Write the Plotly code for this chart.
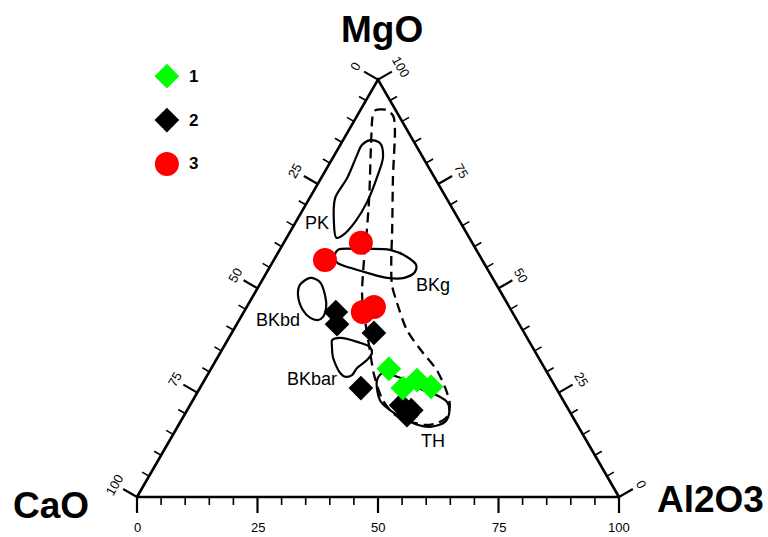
import math
import plotly.graph_objects as go

# ---- sample compositions (wt %, normalised): MgO, CaO, Al2O3 ----
g1_mgo = [30.7, 26.1, 28.0, 26.4]
g1_cao = [32.4, 31.8, 27.9, 25.8]
g1_al = [36.9, 42.1, 44.1, 47.8]

g2_mgo = [44.3, 41.4, 39.3, 26.1, 22.0, 19.6, 20.8]
g2_cao = [36.6, 37.8, 31.2, 40.5, 34.2, 34.2, 32.7]
g2_al = [19.1, 20.8, 29.5, 33.4, 43.8, 46.2, 46.5]

g3_mgo = [60.9, 56.8, 44.3, 45.5]
g3_cao = [23.1, 32.6, 31.0, 28.1]
g3_al = [16.0, 10.6, 24.7, 26.4]

# ---- reference fields (MgO, Al2O3; CaO is the remainder) ----
pk_mgo = [85.5, 84.8, 81.5, 77.1, 70.7, 65.9, 62.8, 62.1, 65.9, 71.6, 76.4, 81.9, 84.3, 85.5]
pk_al = [5.6, 8.0, 10.3, 11.4, 12.4, 12.3, 11.4, 10.3, 7.9, 5.3, 5.4, 4.7, 4.5, 5.6]

bkg_mgo = [59.2, 59.4, 59.2, 57.5, 55.6, 53.9, 52.5, 52.5, 53.7, 54.9, 56.1, 57.7, 59.2]
bkg_al = [12.1, 16.6, 22.9, 27.3, 30.1, 30.7, 29.2, 25.6, 20.9, 16.8, 13.5, 12.2, 12.1]

bkbd_mgo = [50.8, 52.5, 51.5, 48.4, 45.5, 43.1, 42.4, 42.9, 44.8, 48.4, 50.8]
bkbd_al = [8.4, 9.7, 12.2, 14.8, 16.5, 17.0, 16.4, 14.5, 12.0, 9.2, 8.4]

bkbar_mgo = [37.6, 38.1, 37.1, 35.9, 34.5, 32.8, 30.9, 29.2, 28.8, 29.7, 33.5, 35.9, 37.6]
bkbar_al = [21.7, 23.1, 27.3, 30.4, 31.5, 31.3, 30.2, 30.0, 28.8, 27.3, 23.9, 22.5, 21.7]

th_mgo = [28.0, 23.2, 20.8, 18.9, 17.3, 16.8, 18.0, 20.4, 22.8, 24.4, 25.6, 27.6, 28.8, 29.7, 28.0]
th_al = [35.8, 38.8, 42.1, 45.7, 49.5, 52.4, 54.9, 54.6, 52.9, 50.0, 46.5, 42.9, 39.6, 36.2, 35.8]

# tholeiitic trend envelope (dashed)
trend_mgo = [91.5, 92.7, 92.7, 91.3, 88.4, 76.4, 64.5, 56.3, 50.8, 46.5, 40.0, 34.5, 30.4,
             24.9, 22.0, 19.2, 17.7, 17.3, 19.7, 23.2, 29.2, 35.2, 42.4, 48.4, 56.8, 64.0,
             72.4, 84.3, 91.5]
trend_al = [3.2, 3.2, 5.5, 7.5, 9.3, 14.9, 20.7, 24.6, 27.5, 30.7, 36.0, 42.1, 47.0,
            51.9, 53.9, 54.7, 53.4, 50.7, 43.7, 39.4, 34.6, 30.7, 26.1, 22.5, 18.7, 15.7,
            12.0, 6.4, 3.2]

field_names = ["PK", "BKg", "BKbd", "BKbar", "TH"]
field_label_mgo = [65.6, 50.8, 42.4, 28.3, 13.4]
field_label_al = [4.5, 36.0, 8.1, 22.2, 54.7]

tick_values = list(range(0, 101, 5))
major_ticks = [0, 25, 50, 75, 100]

series_names = ["1", "2", "3"]

SQ3 = math.sqrt(3) / 2


def to_xy(mgo, al):
    """Ternary (MgO apex, CaO left, Al2O3 right) -> plane coordinates."""
    xs = [a + m / 2 for m, a in zip(mgo, al)]
    ys = [m * SQ3 for m in mgo]
    return xs, ys


def normalise(mgo, cao, al):
    m2, a2 = [], []
    for m, c, a in zip(mgo, cao, al):
        s = m + c + a
        m2.append(100 * m / s)
        a2.append(100 * a / s)
    return m2, a2


fig = go.Figure()

# ---- triangle frame ----
fx, fy = to_xy([0, 0, 100, 0], [0, 100, 0, 0])
fig.add_trace(go.Scatter(x=fx, y=fy, mode="lines", line=dict(color="black", width=2.6),
                         hoverinfo="skip", showlegend=False))

# ---- ticks, perpendicular and outward on every edge ----
PX = 4.82  # pixels per composition unit
maj_len, min_len = 16 / PX, 8 / PX
edges = {
    # Al2O3 along the base
    "bottom": (lambda v: (v, 0.0), (0.0, -1.0)),
    # CaO along the left edge
    "left": (lambda v: ((100 - v) / 2, (100 - v) * SQ3), (-SQ3, 0.5)),
    # MgO along the right edge
    "right": (lambda v: (100 - v / 2, v * SQ3), (SQ3, 0.5)),
}
for key, (base, (dx, dy)) in edges.items():
    for major in (True, False):
        tx, ty = [], []
        for v in tick_values:
            if (v in major_ticks) != major:
                continue
            ln = maj_len if major else min_len
            bx, by = base(v)
            tx += [bx, bx + dx * ln, None]
            ty += [by, by + dy * ln, None]
        fig.add_trace(go.Scatter(x=tx, y=ty, mode="lines",
                                 line=dict(color="black", width=2.2 if major else 1.6),
                                 hoverinfo="skip", showlegend=False))
    off = (30.5 if key == "bottom" else 26) / PX
    angle = {"bottom": 0, "left": -60, "right": 60}[key]
    for v in major_ticks:
        bx, by = base(v)
        fig.add_annotation(x=bx + dx * off, y=by + dy * off, xref="x", yref="y",
                           text=str(v), showarrow=False, textangle=angle,
                           xanchor="center", yanchor="middle", borderpad=0,
                           font=dict(family="Liberation Sans, Arial", size=13, color="black"))

# ---- fields ----
for mg, al in [(pk_mgo, pk_al), (bkg_mgo, bkg_al), (bkbd_mgo, bkbd_al),
               (bkbar_mgo, bkbar_al), (th_mgo, th_al)]:
    x, y = to_xy(mg, al)
    fig.add_trace(go.Scatter(x=x, y=y, mode="lines",
                             line=dict(color="black", width=2.2, shape="spline", smoothing=0.9),
                             hoverinfo="skip", showlegend=False))

tx_, ty_ = to_xy(trend_mgo, trend_al)
fig.add_trace(go.Scatter(x=tx_, y=ty_, mode="lines",
                         line=dict(color="black", width=2.3, dash="10px,6px",
                                   shape="spline", smoothing=0.8),
                         hoverinfo="skip", showlegend=False))

lx, ly = to_xy(field_label_mgo, field_label_al)
for name, x, y in zip(field_names, lx, ly):
    fig.add_annotation(x=x, y=y, xref="x", yref="y", text=name, showarrow=False,
                       xanchor="center", yanchor="middle",
                       font=dict(family="Liberation Sans, Arial", size=18, color="black"))

# ---- samples ----
styles = [
    dict(symbol="diamond", size=19, color="#00ff00"),
    dict(symbol="diamond", size=19, color="black"),
    dict(symbol="circle", size=24, color="#ff0000"),
]
groups = [(g1_mgo, g1_cao, g1_al), (g2_mgo, g2_cao, g2_al), (g3_mgo, g3_cao, g3_al)]
for idx in [1, 0, 2]:
    m, a = normalise(*groups[idx])
    x, y = to_xy(m, a)
    st = styles[idx]
    fig.add_trace(go.Scatter(x=x, y=y, mode="markers", name=series_names[idx],
                             marker=dict(symbol=st["symbol"], size=st["size"],
                                         color=st["color"], line=dict(width=0)),
                             showlegend=False))

# ---- key (top left) ----
key_x, key_y, key_step = 6.2, 87.3, 9.1
for i, (name, st) in enumerate(zip(series_names, styles)):
    yk = key_y - i * key_step
    fig.add_trace(go.Scatter(x=[key_x], y=[yk], mode="markers", hoverinfo="skip",
                             marker=dict(symbol=st["symbol"], size=st["size"],
                                         color=st["color"], line=dict(width=0)),
                             showlegend=False))
    fig.add_annotation(x=key_x + 4.2, y=yk, xref="x", yref="y", text=f"<b>{name}</b>",
                       showarrow=False, xanchor="left", yanchor="middle",
                       font=dict(family="Liberation Sans, Arial", size=17, color="black"))

# ---- component titles ----
title_font = dict(family="Liberation Sans, Arial", size=37, color="black")
for text, x, y in [("MgO", 50.8, 96.9), ("CaO", -17.8, -1.7), ("Al2O3", 118.9, -0.6)]:
    fig.add_annotation(x=x, y=y, xref="x", yref="y", text=f"<b>{text}</b>",
                       showarrow=False, xanchor="center", yanchor="middle", font=title_font)

fig.update_layout(
    width=768, height=537,
    margin=dict(l=0, r=0, t=0, b=0),
    paper_bgcolor="white", plot_bgcolor="white",
    xaxis=dict(range=[-137 / PX, (768 - 137) / PX], visible=False, fixedrange=True),
    yaxis=dict(range=[(497 - 537) / PX, 497 / PX], visible=False, fixedrange=True),
    showlegend=False,
)

fig.write_html("out.html")
